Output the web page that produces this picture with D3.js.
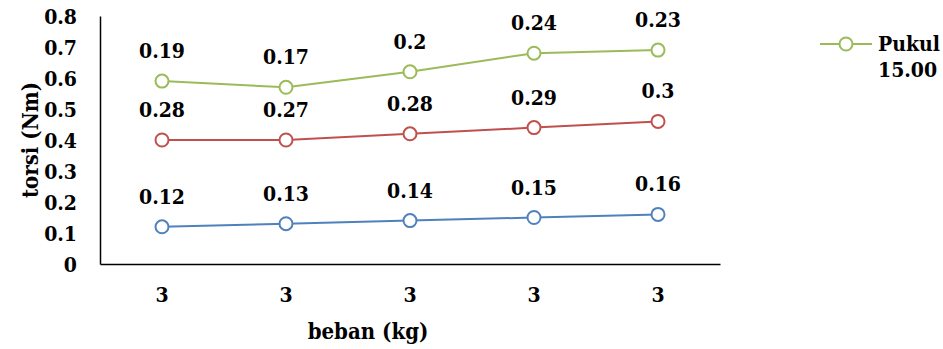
<!DOCTYPE html>
<html>
<head>
<meta charset="utf-8">
<script src="https://cdn.jsdelivr.net/npm/d3@7"></script>
<style>
  body { margin: 0; background: #fff; }
  text { font-family: 'DejaVu Serif Condensed', 'DejaVu Serif', serif; font-weight: bold; fill: #000; }
</style>
</head>
<body>
<div id="chart"></div>
<script>
const categories = ['3', '3', '3', '3', '3']
const seriesNames = ['Pukul 09.00', 'Pukul 12.00', 'Pukul 15.00']
const seriesValues = [
  [0.12, 0.13, 0.14, 0.15, 0.16],
  [0.28, 0.27, 0.28, 0.29, 0.3],
  [0.19, 0.17, 0.2, 0.24, 0.23]
]
const colors = ['#4f81bd', '#c0504d', '#9bbb59']
const yTicks = [0, 0.1, 0.2, 0.3, 0.4, 0.5, 0.6, 0.7, 0.8]

const width = 943
const height = 349
const marginLeft = 100
const plotRight = 720
const plotTop = 16
const plotBottom = 264

const svg = d3.select('#chart').append('svg')
  .attr('width', width)
  .attr('height', height)

const x = d3.scaleBand()
  .domain(d3.range(categories.length))
  .range([marginLeft, plotRight])

const y = d3.scaleLinear()
  .domain([0, 0.8])
  .range([plotBottom, plotTop])

// stacked line: each series sits on top of the previous ones
const stacked = []
seriesValues.forEach((vals, i) => {
  stacked.push(vals.map((v, j) => (i > 0 ? stacked[i - 1][j] : 0) + v))
})

// axes
const yAxis = d3.axisLeft(y).tickValues(yTicks).tickSize(0).tickPadding(23)
  .tickFormat(d => d === 0 ? '0' : d3.format('.1f')(d))
svg.append('g')
  .attr('transform', 'translate(' + marginLeft + ',0)')
  .call(yAxis)
  .call(g => g.select('.domain').attr('stroke', '#000').attr('stroke-width', 1.5))
  .call(g => g.selectAll('text').style('font-size', '21px').attr('dy', '0.35em'))

const xAxis = d3.axisBottom(x).tickSize(0).tickPadding(31)
  .tickFormat(i => categories[i])
svg.append('g')
  .attr('transform', 'translate(0,' + plotBottom + ')')
  .call(xAxis)
  .call(g => g.select('.domain').attr('stroke', '#000').attr('stroke-width', 1.5))
  .call(g => g.selectAll('text').style('font-size', '21px').attr('dy', '0.35em'))

// axis titles
svg.append('text')
  .attr('transform', 'translate(38,140) rotate(-90)')
  .attr('text-anchor', 'middle')
  .style('font-size', '22px')
  .text('torsi (Nm)')

svg.append('text')
  .attr('x', 368)
  .attr('y', 339)
  .attr('text-anchor', 'middle')
  .style('font-size', '22px')
  .text('beban (kg)')

// lines, markers and labels
const line = d3.line()
  .x((d, j) => x(j) + x.bandwidth() / 2)
  .y(d => y(d))

stacked.forEach((vals, i) => {
  const g = svg.append('g')
  g.append('path')
    .datum(vals)
    .attr('d', line)
    .attr('fill', 'none')
    .attr('stroke', colors[i])
    .attr('stroke-width', 2)

  g.selectAll('circle')
    .data(vals)
    .enter()
    .append('circle')
    .attr('cx', (d, j) => x(j) + x.bandwidth() / 2)
    .attr('cy', d => y(d))
    .attr('r', 6.5)
    .attr('fill', '#fff')
    .attr('stroke', colors[i])
    .attr('stroke-width', 2)

  g.selectAll('text.lbl')
    .data(seriesValues[i])
    .enter()
    .append('text')
    .attr('class', 'lbl')
    .attr('x', (d, j) => x(j) + x.bandwidth() / 2)
    .attr('y', (d, j) => y(vals[j]) - 23)
    .attr('text-anchor', 'middle')
    .style('font-size', '21px')
    .text(d => String(d))
})

// legend (only the last series is visible in the original)
const legend = svg.append('g')
legend.append('line')
  .attr('x1', 820).attr('x2', 872)
  .attr('y1', 44).attr('y2', 44)
  .attr('stroke', colors[2])
  .attr('stroke-width', 2)
legend.append('circle')
  .attr('cx', 846).attr('cy', 44).attr('r', 6.5)
  .attr('fill', '#fff')
  .attr('stroke', colors[2])
  .attr('stroke-width', 2)
const lt = legend.append('text')
  .attr('x', 878)
  .attr('y', 51)
  .style('font-size', '21px')
lt.append('tspan').attr('x', 878).text(seriesNames[2].split(' ')[0])
lt.append('tspan').attr('x', 878).attr('dy', 26).text(seriesNames[2].split(' ')[1])
</script>
</body>
</html>
